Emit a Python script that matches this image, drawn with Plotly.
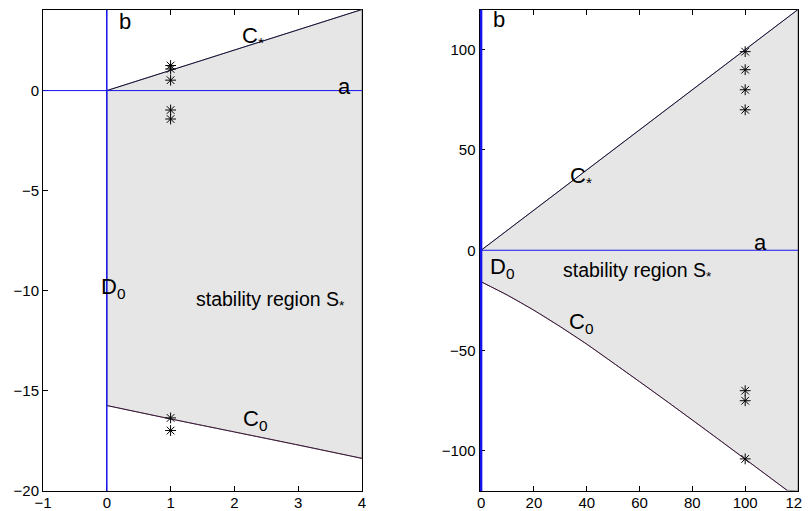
import plotly.graph_objects as go

# ---------------- data ----------------
# Left panel
L_xrange = [-1, 4]
L_yrange = [-20, 4.05]
L_xticks = [-1, 0, 1, 2, 3, 4]
L_yticks = [-20, -15, -10, -5, 0]
L_cstar_x = [0, 4]
L_cstar_y = [0, 4.05]
L_c0_x = [0, 1, 2, 3, 4]
L_c0_y = [-15.73, -16.4, -17.05, -17.7, -18.37]
L_pts_x = [1, 1, 1, 1, 1, 1, 1]
L_pts_y = [1.25, 1.08, 0.52, -0.97, -1.42, -16.35, -16.98]

# Right panel
R_xrange = [-0.6, 120]
R_yrange = [-120, 120]
R_xticks = [0, 20, 40, 60, 80, 100, 120]
R_yticks = [-100, -50, 0, 50, 100]
R_cstar_x = [0, 120]
R_cstar_y = [0, 120]
R_c0_x = [0, 10, 20, 30, 40, 50, 60, 70, 80, 90, 100, 115.8]
R_c0_y = [-15.7, -22.4, -29.9, -38.1, -46.8, -56.1, -65.5, -75.0, -84.6, -94.3, -104.1, -119.6]
R_pts_x = [100, 100, 100, 100, 100, 100, 100]
R_pts_y = [99, 90, 80, 70, -70, -75, -104]

# ---------------- styles ----------------
FONT = "Liberation Sans, Arial, sans-serif"
GREY = "#e6e6e6"
BLUE = "rgb(20,20,235)"
CSTAR_COL = "#14143c"
C0_COL = "#3c1438"

fig = go.Figure()

def panel(xa, ya, cx, cy, c0x, c0y, px, py, xr, yr, vwidth, hx0):
    # stability region polygon built from the boundary curves and the axis limits
    if c0x[-1] < xr[1]:
        polyx = [cx[0]] + cx[1:] + [xr[1]] + c0x[::-1] + [cx[0]]
        polyy = [cy[0]] + cy[1:] + [yr[0]] + c0y[::-1] + [cy[0]]
    else:
        polyx = [cx[0]] + cx[1:] + c0x[::-1] + [cx[0]]
        polyy = [cy[0]] + cy[1:] + c0y[::-1] + [cy[0]]
    fig.add_trace(go.Scatter(x=polyx, y=polyy, fill="toself", fillcolor=GREY,
                             mode="lines", line=dict(color="#8c8c8c", width=1),
                             xaxis=xa, yaxis=ya, hoverinfo="skip", showlegend=False))
    fig.add_trace(go.Scatter(x=cx, y=cy, mode="lines", line=dict(color=CSTAR_COL, width=1),
                             xaxis=xa, yaxis=ya, showlegend=False))
    fig.add_trace(go.Scatter(x=c0x, y=c0y, mode="lines", line=dict(color=C0_COL, width=1, shape="spline", smoothing=0.6),
                             xaxis=xa, yaxis=ya, showlegend=False))
    # a-axis (horizontal) and b-axis (vertical)
    fig.add_trace(go.Scatter(x=[hx0, xr[1]], y=[0, 0], mode="lines", line=dict(color=BLUE, width=1),
                             xaxis=xa, yaxis=ya, showlegend=False))
    fig.add_trace(go.Scatter(x=[0, 0], y=yr, mode="lines", line=dict(color=BLUE, width=vwidth),
                             xaxis=xa, yaxis=ya, showlegend=False))
    fig.add_trace(go.Scatter(x=px, y=py, mode="markers",
                             marker=dict(symbol="asterisk-open", size=9, color="black",
                                         line=dict(color="black", width=1)),
                             xaxis=xa, yaxis=ya, showlegend=False))

panel("x", "y", L_cstar_x, L_cstar_y, L_c0_x, L_c0_y, L_pts_x, L_pts_y, L_xrange, L_yrange, 1.5, L_xrange[0])
panel("x2", "y2", R_cstar_x, R_cstar_y, R_c0_x, R_c0_y, R_pts_x, R_pts_y, R_xrange, R_yrange, 2.5, 0)

def ann(xref, yref, x, y, text, size):
    return dict(x=x, y=y, xref=xref, yref=yref, text=text, showarrow=False,
                font=dict(family=FONT, size=size, color="black"),
                xanchor="center", yanchor="middle")

BIG = 22
MID = 19.5
annotations = [
    ann("x", "y", 0.28, 3.43, "b", BIG),
    ann("x", "y", 2.29, 2.67, "C<sub>*</sub>", BIG),
    ann("x", "y", 3.73, 0.22, "a", BIG),
    ann("x", "y", 0.1, -9.85, "D<sub>0</sub>", BIG),
    ann("x", "y", 2.56, -10.5, "stability region S<sub>*</sub>", MID),
    ann("x", "y", 2.32, -16.45, "C<sub>0</sub>", BIG),
    ann("x2", "y2", 6.8, 115, "b", BIG),
    ann("x2", "y2", 37.8, 36.5, "C<sub>*</sub>", BIG),
    ann("x2", "y2", 105.7, 3.8, "a", BIG),
    ann("x2", "y2", 7.9, -9.0, "D<sub>0</sub>", BIG),
    ann("x2", "y2", 59.4, -10.6, "stability region S<sub>*</sub>", MID),
    ann("x2", "y2", 37.85, -36.5, "C<sub>0</sub>", BIG),
]

axis_common = dict(showline=True, linecolor="black", linewidth=1, mirror="ticks",
                   ticks="inside", ticklen=5, tickcolor="black", showgrid=False,
                   zeroline=False, layer="below traces", automargin=False,
                   ticklabeloverflow="allow",
                   tickfont=dict(family=FONT, size=15, color="black"))
xaxis_extra = dict(ticklabelstandoff=-2)

# page body has an 8px margin: figure sits at (8, 8) and fills the rest of the window
OFF = 8
W, H = 810 - OFF, 511 - OFF
def xd(a, b):
    return [(a - OFF) / W, (b - OFF) / W]
def yd(top, bot):
    return [(H - (bot - OFF)) / H, (H - (top - OFF)) / H]

ydom = yd(9.5, 491)

fig.update_layout(
    width=W, height=H, margin=dict(l=0, r=0, t=0, b=0),
    paper_bgcolor="white", plot_bgcolor="white", showlegend=False,
    xaxis=dict(domain=xd(43, 362), range=L_xrange, tickvals=L_xticks, anchor="y", **axis_common, **xaxis_extra),
    yaxis=dict(domain=ydom, range=L_yrange, tickvals=L_yticks, anchor="x", **axis_common),
    xaxis2=dict(domain=xd(479.5, 798), range=R_xrange, tickvals=R_xticks, anchor="y2", **axis_common, **xaxis_extra),
    yaxis2=dict(domain=ydom, range=R_yrange, tickvals=R_yticks, anchor="x2", **axis_common),
    annotations=annotations,
)

fig.write_html("out.html")
